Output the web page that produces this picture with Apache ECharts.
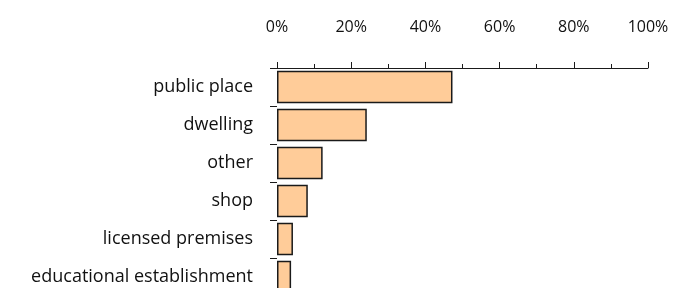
<!DOCTYPE html>
<html>
<head>
<meta charset="utf-8">
<script src="https://cdn.jsdelivr.net/npm/echarts@6/dist/echarts.min.js"></script>
<style>
  html, body { margin: 0; padding: 0; background: #fff; }
  #main { width: 691px; height: 288px; }
</style>
</head>
<body>
<div id="main"></div>
<script>
var chartDom = document.getElementById('main');
var myChart = echarts.init(chartDom);

// 地点类别（从上到下）
var categories = ['public place', 'dwelling', 'other', 'shop', 'licensed premises', 'educational establishment'];
// 百分比
var shares = [47.3, 24.2, 12.3, 8.3, 4.3, 3.8];

var inkColor = '#1a1a1a';
var barColor = '#ffcc99';
var fontName = 'Open Sans';

var option = {
    animation: false,
    grid: {
        left: 277,
        width: 371,
        top: 68,
        height: 228, // 图表在底部被截断
        outerBoundsMode: 'none',
        containLabel: false
    },
    xAxis: {
        type: 'value',
        position: 'top',
        min: 0,
        max: 100,
        interval: 20,
        axisLine: { show: true, lineStyle: { color: inkColor, width: 1 } },
        axisTick: { show: true, inside: false, length: 6, lineStyle: { color: inkColor } },
        minorTick: { show: true, splitNumber: 2, length: 4, lineStyle: { color: inkColor } },
        splitLine: { show: false },
        axisLabel: {
            margin: 33,
            formatter: '{value}%',
            color: '#111',
            fontFamily: fontName,
            fontSize: 16
        }
    },
    yAxis: {
        type: 'category',
        inverse: true,
        data: categories,
        axisLine: { show: false },
        axisTick: { show: true, inside: false, length: 7, lineStyle: { color: inkColor } },
        axisLabel: {
            margin: 24,
            color: '#111',
            fontFamily: fontName,
            fontSize: 18
        }
    },
    series: [{
        type: 'bar',
        data: shares,
        barCategoryGap: '15%',
        itemStyle: {
            color: barColor,
            borderColor: inkColor,
            borderWidth: 1.5
        }
    }]
};

myChart.setOption(option);
</script>
</body>
</html>
